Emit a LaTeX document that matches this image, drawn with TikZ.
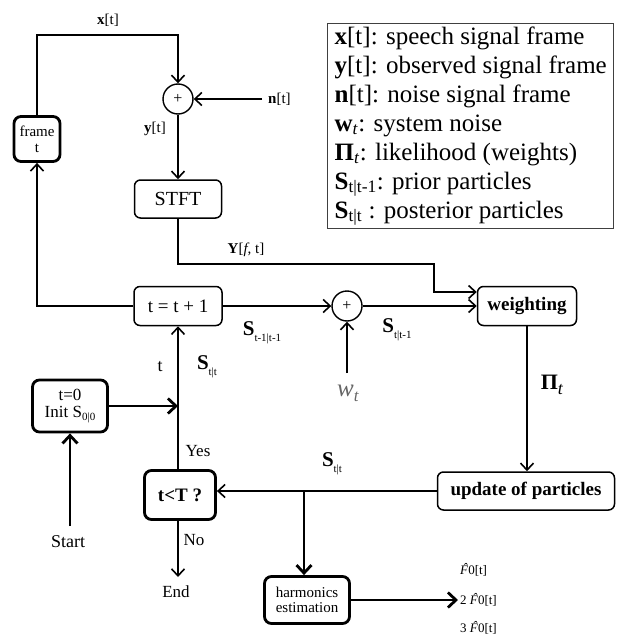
\documentclass[tikz,border=0pt]{standalone}
\usepackage{fontspec}
\setmainfont{Liberation Serif}
\usetikzlibrary{arrows.meta}
\newcommand\fsz[1]{\fontsize{#1}{#1}\selectfont}
\newcommand\Slab[1]{{\fsz{21}\textbf{S}}\raisebox{-6pt}{\fsz{11}#1}}
\newcommand\Fhat{\textit{\accent"02C6 F}}
\begin{document}
\begin{tikzpicture}[x=1pt,y=-1pt,
  conn/.style={line width=1.6pt,-{Straight Barb[length=7pt,width=13pt,line width=1.6pt]}},
  thickconn/.style={line width=2.8pt,-{Straight Barb[length=8pt,width=15pt,line width=2.8pt]}},
  rbox/.style={draw,line width=1.5pt,rounded corners=6pt,align=center,inner sep=1pt},
  tbox/.style={draw,line width=2.8pt,rounded corners=7pt,align=center,inner sep=1pt},
  sumnode/.style={draw,circle,line width=1.4pt,minimum size=30pt,inner sep=0pt,font=\fsz{16}},
  lbl/.style={inner sep=0pt,align=center}]
\useasboundingbox (0,0) rectangle (619,637);
% boxes
\node[tbox,minimum width=46pt,minimum height=45pt,font=\fsz{15}] (frame) at (37,139) {frame\\[1pt]t};
\node[sumnode] (plus1) at (178,99) {+};
\node[rbox,minimum width=87pt,minimum height=38pt,font=\fsz{20}] (stft) at (178,199) {STFT};
\node[rbox,minimum width=88pt,minimum height=39pt,font=\fsz{19}] (tt) at (178,306) {t = t + 1};
\node[sumnode] (plus2) at (347,306) {+};
\node[rbox,minimum width=99pt,minimum height=39pt,font=\fsz{19}\bfseries] (weight) at (527,306) {weighting};
\node[rbox,minimum width=177pt,minimum height=38pt,font=\fsz{19}\bfseries] (update) at (526,491) {update of particles};
\node[tbox,minimum width=71pt,minimum height=49pt,font=\fsz{19}\bfseries] (tlt) at (180,495) {t<T ?};
\node[tbox,minimum width=75pt,minimum height=52pt,font=\fsz{17}] (init) at (70,406) {t=0\\Init S\raisebox{-3pt}{\fsz{11}0|0}};
\node[tbox,minimum width=85pt,minimum height=47pt,font=\fsz{15}] (harm) at (307,600) {harmonics\\estimation};
% legend
\node[draw=black!75,line width=1.3pt,anchor=north west,align=left,inner xsep=7pt,inner ysep=3pt,
  font=\fontsize{25}{29}\selectfont] (legend) at (327,23)
 {\textbf{x}[t]: speech signal frame\\
  \textbf{y}[t]: observed signal frame\\
  \textbf{n}[t]: noise signal frame\\
  \textbf{w}\textsubscript{\textit{t}}: system noise\\
  \textbf{Π}\textsubscript{\textit{t}}: likelihood (weights)\\
  \textbf{S}\textsubscript{t|t-1}: prior particles\\
  \textbf{S}\textsubscript{t|t} : posterior particles};
% coordinates
\coordinate (c1) at (178,35);
\coordinate (nst) at (262,99);
\coordinate (c2) at (434,264);
\coordinate (wst) at (347,373);
\coordinate (branch) at (304,491);
\coordinate (startc) at (70,526);
\coordinate (endc) at (178,577);
\coordinate (f0c) at (458,600);
% labels
\node[lbl,font=\fsz{15}] (xl) at (108,20) {\textbf{x}[t]};
\node[lbl,font=\fsz{15},anchor=west] (nl) at (268,99) {\textbf{n}[t]};
\node[lbl,font=\fsz{15}] (yl) at (155,129) {\textbf{y}[t]};
\node[lbl,font=\fsz{15}] (Yl) at (246,250) {\textbf{Y}[\textit{f}, t]};
\node[lbl] (s1) at (262,333) {\Slab{t-1|t-1}};
\node[lbl] (s2) at (397,330) {\Slab{t|t-1}};
\node[lbl,font=\fsz{25},text=black!60] (wl) at (348,393) {\textit{w}\raisebox{-5pt}{\fsz{17}\textit{t}}};
\node[lbl,font=\fsz{22}] (pil) at (552,385) {\textbf{Π}\raisebox{-5pt}{\fsz{18}\textit{t}}};
\node[lbl] (s3) at (332,464) {\Slab{t|t}};
\node[lbl,font=\fsz{18}] (tl) at (160,367) {t};
\node[lbl] (s4) at (207,367) {\Slab{t|t}};
\node[lbl,font=\fsz{17}] (yes) at (198,451) {Yes};
\node[lbl,font=\fsz{17}] (no) at (194,540) {No};
\node[lbl,font=\fsz{17}] (endl) at (176,592) {End};
\node[lbl,font=\fsz{18}] (startl) at (68,542) {Start};
\node[lbl,font=\fsz{13},anchor=west] (f1) at (460,570) {\Fhat0[t]};
\node[lbl,font=\fsz{13},anchor=west] (f2) at (460,600) {2 \Fhat0[t]};
\node[lbl,font=\fsz{13},anchor=west] (f3) at (460,628) {3 \Fhat0[t]};
% connectors
\draw[conn] (frame.north) |- (c1) -- (plus1.north);
\draw[conn] (nst) -- (plus1.east);
\draw[conn] (plus1.south) -- (stft.north);
\draw[conn] (stft.south) |- (c2) |- ([yshift=14pt]weight.west);
\draw[conn] (tt.west) -| (frame.south);
\draw[conn] (tt.east) -- (plus2.west);
\draw[conn] (wst) -- (plus2.south);
\draw[conn] (plus2.east) -- (weight.west);
\draw[conn] (weight.south) -- (weight.south |- update.north);
\draw[conn] (update.west) -- (tlt.east |- update.west);
\draw[thickconn] (branch) -- (branch |- harm.north);
\draw[conn] (tt.south |- tlt.north) -- (tt.south);
\draw[thickconn] (init.east) -- (init.east -| tt.south);
\draw[thickconn] (startc) -- (init.south);
\draw[conn] (tt.south |- tlt.south) -- (endc);
\draw[thickconn] (harm.east) -- (f0c);
\end{tikzpicture}
\end{document}
